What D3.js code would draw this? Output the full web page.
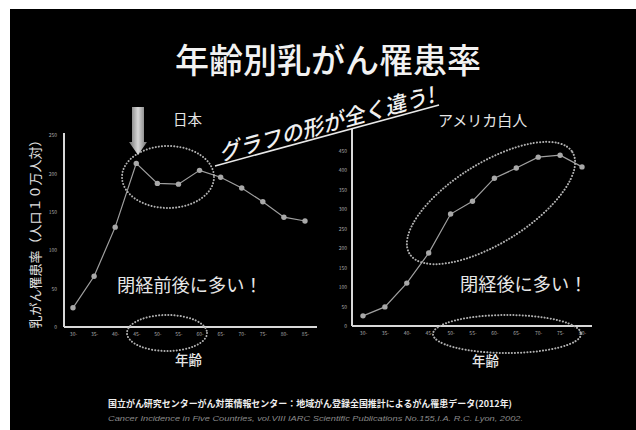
<!DOCTYPE html>
<html>
<head>
<meta charset="utf-8">
<script src="https://cdn.jsdelivr.net/npm/d3@7"></script>
<style>
body { margin: 0; background: #fff; }
svg text { font-family: "Noto Sans CJK JP", "Noto Sans", sans-serif; }
</style>
</head>
<body>
<div id="slide"></div>
<script>
// age groups (x axis)
var ages_jp = ["30-","35-","40-","45-","50-","55-","60-","65-","70-","75-","80-","85-"];
var ages_us = ["30-","35-","40-","45-","50-","55-","60-","65-","70-","75-","80-"];
// incidence per 100,000
var rate_jp = [25, 66, 130, 213, 187, 186, 204, 195, 181, 163, 143, 138];
var rate_us = [26, 49, 110, 187, 287, 320, 379, 405, 433, 438, 408];
var ticks_jp = [0, 50, 100, 150, 200, 250];
var ticks_us = [0, 50, 100, 150, 200, 250, 300, 350, 400, 450];

var w = 636, h = 430;
var svg = d3.select("#slide").append("svg")
    .attr("width", w)
    .attr("height", h);

svg.append("rect")
    .attr("x", 10).attr("y", 9)
    .attr("width", w - 10).attr("height", h - 9)
    .attr("fill", "#000");

var defs = svg.append("defs");
var grad = defs.append("linearGradient").attr("id", "arrowgrad")
    .attr("x1", "0").attr("x2", "1").attr("y1", "0").attr("y2", "0");
grad.append("stop").attr("offset", "0%").attr("stop-color", "#6e6e6e");
grad.append("stop").attr("offset", "50%").attr("stop-color", "#d8d8d8");
grad.append("stop").attr("offset", "100%").attr("stop-color", "#6e6e6e");

// title
svg.append("text")
    .attr("x", 328).attr("y", 73)
    .attr("text-anchor", "middle")
    .attr("font-size", 34)
    .attr("font-weight", 500)
    .attr("fill", "#f2f2f2")
    .text("年齢別乳がん罹患率");

function draw_panel(ages, rates, ticks, ymax, xr, yr, axisx) {
    var x = d3.scalePoint().domain(ages).range(xr);
    var y = d3.scaleLinear().domain([0, ymax]).range(yr);
    var g = svg.append("g");

    var yaxis = d3.axisLeft(y).tickValues(ticks).tickSize(0).tickPadding(axisx.pad);
    var ya = g.append("g")
        .attr("transform", "translate(" + axisx.x + ",0)")
        .call(yaxis);
    ya.select(".domain").remove();
    ya.selectAll("text").attr("fill", "#aaa").attr("font-size", 5);

    var xaxis = d3.axisBottom(x).tickSize(0).tickPadding(5);
    var xa = g.append("g")
        .attr("transform", "translate(0," + yr[0] + ")")
        .call(xaxis);
    xa.select(".domain").remove();
    xa.selectAll("text").attr("fill", "#aaa").attr("font-size", 5);

    // axis lines
    g.append("line")
        .attr("x1", axisx.x).attr("x2", axisx.x)
        .attr("y1", yr[1] - 2).attr("y2", yr[0])
        .attr("stroke", "#d8d8d8").attr("stroke-width", 2);
    g.append("line")
        .attr("x1", axisx.x).attr("x2", axisx.end)
        .attr("y1", yr[0]).attr("y2", yr[0])
        .attr("stroke", "#d8d8d8").attr("stroke-width", 2);

    var line = d3.line()
        .x(function(d, i) { return x(ages[i]); })
        .y(function(d) { return y(d); });
    g.append("path")
        .datum(rates)
        .attr("d", line)
        .attr("fill", "none")
        .attr("stroke", "#a0a0a0")
        .attr("stroke-width", 1.2);
    g.selectAll("circle")
        .data(rates)
        .enter().append("circle")
        .attr("cx", function(d, i) { return x(ages[i]); })
        .attr("cy", function(d) { return y(d); })
        .attr("r", 2.7)
        .attr("fill", "#a8a8a8");
}

draw_panel(ages_jp, rate_jp, ticks_jp, 250, [73, 305], [327, 135], {x: 64, pad: 7, end: 317});
draw_panel(ages_us, rate_us, ticks_us, 500, [363, 582], [326, 131], {x: 352, pad: 5, end: 592});

// dotted ellipses
function dotted(cx, cy, rx, ry, rot) {
    svg.append("ellipse")
        .attr("cx", 0).attr("cy", 0)
        .attr("rx", rx).attr("ry", ry)
        .attr("transform", "translate(" + cx + "," + cy + ") rotate(" + rot + ")")
        .attr("fill", "none")
        .attr("stroke", "#b0b0b0")
        .attr("stroke-width", 2)
        .attr("stroke-linecap", "round")
        .attr("stroke-dasharray", "0.1 3");
}
dotted(168, 177, 46, 31, 0);
dotted(167, 333, 40, 18, 0);
dotted(491, 203, 96, 40, -32);
dotted(507, 334, 74, 19, 0);

// arrow
svg.append("path")
    .attr("d", "M132,107 L144,107 L144,142 L147,142 L138,155 L129,142 L132,142 Z")
    .attr("fill", "url(#arrowgrad)");

// panel labels
function label(txt, x, y, size, anchor) {
    return svg.append("text")
        .attr("x", x).attr("y", y)
        .attr("text-anchor", anchor || "start")
        .attr("font-size", size)
        .attr("fill", "#e6e6e6")
        .text(txt);
}
label("日本", 173, 125, 14.5);
label("アメリカ白人", 438, 126, 15);
label("閉経前後に多い！", 117, 292, 18.2);
label("閉経後に多い！", 460, 291, 18.2);
label("年齢", 175, 365, 13.5).attr("font-weight", 500);
label("年齢", 472, 366, 13.5).attr("font-weight", 500);

svg.append("text")
    .attr("transform", "translate(40,231) rotate(-90)")
    .attr("text-anchor", "middle")
    .attr("font-size", 13)
    .attr("fill", "#e0e0e0")
    .text("乳がん罹患率（人口１０万人対）");

// slanted remark
svg.append("text")
    .attr("transform", "translate(221,161) rotate(-15.4)")
    .attr("font-size", 21.5)
    .attr("font-style", "italic")
    .attr("font-weight", 500)
    .attr("fill", "#f0f0f0")
    .text("グラフの形が全く違う!");
svg.append("line")
    .attr("x1", 215).attr("y1", 166)
    .attr("x2", 439).attr("y2", 105)
    .attr("stroke", "#e8e8e8")
    .attr("stroke-width", 1.5);

// source
svg.append("text")
    .attr("x", 108).attr("y", 407)
    .attr("textLength", 404)
    .attr("lengthAdjust", "spacingAndGlyphs")
    .attr("font-size", 9)
    .attr("font-weight", "bold")
    .attr("fill", "#eee")
    .text("国立がん研究センターがん対策情報センター：地域がん登録全国推計によるがん罹患データ(2012年)");
svg.append("text")
    .attr("x", 108).attr("y", 421)
    .attr("textLength", 415)
    .attr("lengthAdjust", "spacingAndGlyphs")
    .attr("font-size", 7)
    .attr("font-style", "italic")
    .attr("fill", "#8a8a8a")
    .style("font-family", "'Liberation Sans', sans-serif")
    .text("Cancer Incidence in Five Countries, vol.VIII  IARC Scientific Publications No.155,I.A. R.C. Lyon, 2002.");
</script>
</body>
</html>
